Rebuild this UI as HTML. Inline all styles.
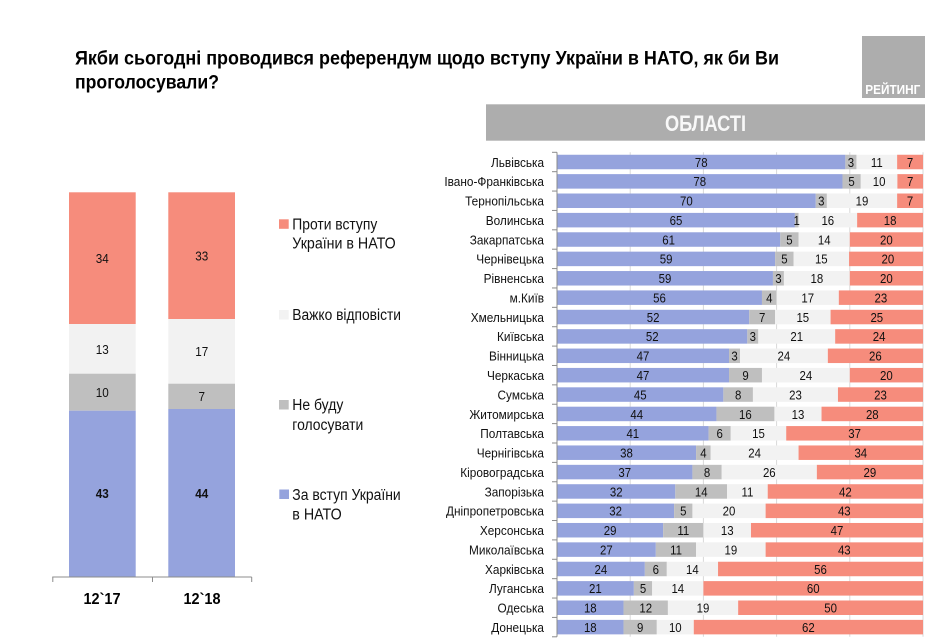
<!DOCTYPE html>
<html><head><meta charset="utf-8"><style>
html,body{margin:0;padding:0;background:#fff;}
svg{display:block;}
text{font-family:"Liberation Sans",Arial,sans-serif;}
.lb{font-size:13px;fill:#111;text-anchor:end;transform-box:fill-box;transform-origin:right center;transform:scaleX(0.91);}
.n{font-size:13px;fill:#111;text-anchor:middle;transform-box:fill-box;transform-origin:center;transform:scaleX(0.88);}
.m{font-size:13px;fill:#111;text-anchor:middle;transform-box:fill-box;transform-origin:center;transform:scaleX(0.9);}
.b{fill:#95a3dd;}.g{fill:#bfbfbf;}.w{fill:#f2f2f2;}.r{fill:#f68c7c;}
.lg{font-size:15.5px;fill:#111;}
</style></head><body>
<svg width="946" height="641" viewBox="0 0 946 641" xmlns="http://www.w3.org/2000/svg">
<rect width="946" height="641" fill="#fff"/>
<!-- Title -->
<text x="75" y="64.3" font-size="19" font-weight="bold" fill="#000" textLength="704" lengthAdjust="spacingAndGlyphs">Якби сьогодні проводився референдум щодо вступу України в НАТО, як би Ви</text>
<text x="75" y="88.3" font-size="19" font-weight="bold" fill="#000" textLength="144" lengthAdjust="spacingAndGlyphs">проголосували?</text>
<!-- logo -->
<rect x="862" y="36" width="63" height="62" fill="#adadad"/>
<text x="865.3" y="94" font-size="12.5" font-weight="bold" fill="#fff" textLength="55" lengthAdjust="spacingAndGlyphs">РЕЙТИНГ</text>
<rect x="486" y="104.3" width="439" height="36.4" fill="#adadad"/>
<text x="705.5" y="131" font-size="22" font-weight="bold" fill="#f8f8f8" text-anchor="middle" textLength="81" lengthAdjust="spacingAndGlyphs">ОБЛАСТІ</text>

<!-- Left chart -->
<rect x="69" y="192.3" width="66.7" height="131.7" class="r"/>
<rect x="69" y="324" width="66.7" height="49.7" class="w"/>
<rect x="69" y="373.7" width="66.7" height="37" class="g"/>
<rect x="69" y="410.7" width="66.7" height="166.3" class="b"/>
<rect x="168.3" y="192.3" width="66.7" height="126.7" class="r"/>
<rect x="168.3" y="319" width="66.7" height="64.7" class="w"/>
<rect x="168.3" y="383.7" width="66.7" height="25.3" class="g"/>
<rect x="168.3" y="409" width="66.7" height="168" class="b"/>
<text class="m" x="102.3" y="263">34</text>
<text class="m" x="102.3" y="353.8">13</text>
<text class="m" x="102.3" y="397">10</text>
<text class="m" x="102.3" y="498" font-weight="bold">43</text>
<text class="m" x="201.7" y="260.5">33</text>
<text class="m" x="201.7" y="356">17</text>
<text class="m" x="201.7" y="401">7</text>
<text class="m" x="201.7" y="498" font-weight="bold">44</text>
<g stroke="#8c8c8c" stroke-width="1">
<line x1="52.3" y1="577" x2="251.7" y2="577"/>
<line x1="52.8" y1="577" x2="52.8" y2="582"/>
<line x1="152.5" y1="577" x2="152.5" y2="582"/>
<line x1="251.7" y1="577" x2="251.7" y2="582"/>
</g>
<text x="102" y="604" font-size="16" font-weight="bold" fill="#000" text-anchor="middle" textLength="37" lengthAdjust="spacingAndGlyphs">12`17</text>
<text x="202" y="604" font-size="16" font-weight="bold" fill="#000" text-anchor="middle" textLength="37" lengthAdjust="spacingAndGlyphs">12`18</text>

<!-- Legend -->
<rect x="279" y="219.3" width="9.7" height="9.5" class="r"/>
<text class="lg" x="292.3" y="229.5" textLength="85" lengthAdjust="spacingAndGlyphs">Проти вступу</text>
<text class="lg" x="292.3" y="248.5" textLength="103.4" lengthAdjust="spacingAndGlyphs">України в НАТО</text>
<rect x="279" y="310" width="9.7" height="9.5" class="w"/>
<text class="lg" x="292.3" y="320" textLength="108.7" lengthAdjust="spacingAndGlyphs">Важко відповісти</text>
<rect x="279" y="400" width="9.7" height="9.5" class="g"/>
<text class="lg" x="292.3" y="410" textLength="51" lengthAdjust="spacingAndGlyphs">Не буду</text>
<text class="lg" x="292.3" y="430" textLength="71" lengthAdjust="spacingAndGlyphs">голосувати</text>
<rect x="279.3" y="489.5" width="9.7" height="9.5" class="b"/>
<text class="lg" x="292.3" y="500" textLength="108.4" lengthAdjust="spacingAndGlyphs">За вступ України</text>
<text class="lg" x="292.3" y="519.3" textLength="49.4" lengthAdjust="spacingAndGlyphs">в НАТО</text>

<!-- Right chart gridlines -->
<g stroke="#d9d9d9" stroke-width="1">
<line x1="630.2" y1="152.3" x2="630.2" y2="636.8"/>
<line x1="703.4" y1="152.3" x2="703.4" y2="636.8"/>
<line x1="776.6" y1="152.3" x2="776.6" y2="636.8"/>
<line x1="849.8" y1="152.3" x2="849.8" y2="636.8"/>
<line x1="923" y1="152.3" x2="923" y2="636.8"/>
</g>

<!-- Bars -->
<g transform="translate(557 154.75) scale(3.69697 1)"><rect x="0" width="78" height="14.5" class="b"/><rect x="78" width="3" height="14.5" class="g"/><rect x="81" width="11" height="14.5" class="w"/><rect x="92" width="7" height="14.5" class="r"/></g>
<g transform="translate(557 174.13) scale(3.66 1)"><rect x="0" width="78" height="14.5" class="b"/><rect x="78" width="5" height="14.5" class="g"/><rect x="83" width="10" height="14.5" class="w"/><rect x="93" width="7" height="14.5" class="r"/></g>
<g transform="translate(557 193.51) scale(3.69697 1)"><rect x="0" width="70" height="14.5" class="b"/><rect x="70" width="3" height="14.5" class="g"/><rect x="73" width="19" height="14.5" class="w"/><rect x="92" width="7" height="14.5" class="r"/></g>
<g transform="translate(557 212.89) scale(3.66 1)"><rect x="0" width="65" height="14.5" class="b"/><rect x="65" width="1" height="14.5" class="g"/><rect x="66" width="16" height="14.5" class="w"/><rect x="82" width="18" height="14.5" class="r"/></g>
<g transform="translate(557 232.27) scale(3.66 1)"><rect x="0" width="61" height="14.5" class="b"/><rect x="61" width="5" height="14.5" class="g"/><rect x="66" width="14" height="14.5" class="w"/><rect x="80" width="20" height="14.5" class="r"/></g>
<g transform="translate(557 251.65) scale(3.69697 1)"><rect x="0" width="59" height="14.5" class="b"/><rect x="59" width="5" height="14.5" class="g"/><rect x="64" width="15" height="14.5" class="w"/><rect x="79" width="20" height="14.5" class="r"/></g>
<g transform="translate(557 271.03) scale(3.66 1)"><rect x="0" width="59" height="14.5" class="b"/><rect x="59" width="3" height="14.5" class="g"/><rect x="62" width="18" height="14.5" class="w"/><rect x="80" width="20" height="14.5" class="r"/></g>
<g transform="translate(557 290.41) scale(3.66 1)"><rect x="0" width="56" height="14.5" class="b"/><rect x="56" width="4" height="14.5" class="g"/><rect x="60" width="17" height="14.5" class="w"/><rect x="77" width="23" height="14.5" class="r"/></g>
<g transform="translate(557 309.79) scale(3.69697 1)"><rect x="0" width="52" height="14.5" class="b"/><rect x="52" width="7" height="14.5" class="g"/><rect x="59" width="15" height="14.5" class="w"/><rect x="74" width="25" height="14.5" class="r"/></g>
<g transform="translate(557 329.17) scale(3.66 1)"><rect x="0" width="52" height="14.5" class="b"/><rect x="52" width="3" height="14.5" class="g"/><rect x="55" width="21" height="14.5" class="w"/><rect x="76" width="24" height="14.5" class="r"/></g>
<g transform="translate(557 348.55) scale(3.66 1)"><rect x="0" width="47" height="14.5" class="b"/><rect x="47" width="3" height="14.5" class="g"/><rect x="50" width="24" height="14.5" class="w"/><rect x="74" width="26" height="14.5" class="r"/></g>
<g transform="translate(557 367.93) scale(3.66 1)"><rect x="0" width="47" height="14.5" class="b"/><rect x="47" width="9" height="14.5" class="g"/><rect x="56" width="24" height="14.5" class="w"/><rect x="80" width="20" height="14.5" class="r"/></g>
<g transform="translate(557 387.31) scale(3.69697 1)"><rect x="0" width="45" height="14.5" class="b"/><rect x="45" width="8" height="14.5" class="g"/><rect x="53" width="23" height="14.5" class="w"/><rect x="76" width="23" height="14.5" class="r"/></g>
<g transform="translate(557 406.69) scale(3.62376 1)"><rect x="0" width="44" height="14.5" class="b"/><rect x="44" width="16" height="14.5" class="g"/><rect x="60" width="13" height="14.5" class="w"/><rect x="73" width="28" height="14.5" class="r"/></g>
<g transform="translate(557 426.07) scale(3.69697 1)"><rect x="0" width="41" height="14.5" class="b"/><rect x="41" width="6" height="14.5" class="g"/><rect x="47" width="15" height="14.5" class="w"/><rect x="62" width="37" height="14.5" class="r"/></g>
<g transform="translate(557 445.45) scale(3.66 1)"><rect x="0" width="38" height="14.5" class="b"/><rect x="38" width="4" height="14.5" class="g"/><rect x="42" width="24" height="14.5" class="w"/><rect x="66" width="34" height="14.5" class="r"/></g>
<g transform="translate(557 464.83) scale(3.66 1)"><rect x="0" width="37" height="14.5" class="b"/><rect x="37" width="8" height="14.5" class="g"/><rect x="45" width="26" height="14.5" class="w"/><rect x="71" width="29" height="14.5" class="r"/></g>
<g transform="translate(557 484.21) scale(3.69697 1)"><rect x="0" width="32" height="14.5" class="b"/><rect x="32" width="14" height="14.5" class="g"/><rect x="46" width="11" height="14.5" class="w"/><rect x="57" width="42" height="14.5" class="r"/></g>
<g transform="translate(557 503.59) scale(3.66 1)"><rect x="0" width="32" height="14.5" class="b"/><rect x="32" width="5" height="14.5" class="g"/><rect x="37" width="20" height="14.5" class="w"/><rect x="57" width="43" height="14.5" class="r"/></g>
<g transform="translate(557 522.97) scale(3.66 1)"><rect x="0" width="29" height="14.5" class="b"/><rect x="29" width="11" height="14.5" class="g"/><rect x="40" width="13" height="14.5" class="w"/><rect x="53" width="47" height="14.5" class="r"/></g>
<g transform="translate(557 542.35) scale(3.66 1)"><rect x="0" width="27" height="14.5" class="b"/><rect x="27" width="11" height="14.5" class="g"/><rect x="38" width="19" height="14.5" class="w"/><rect x="57" width="43" height="14.5" class="r"/></g>
<g transform="translate(557 561.73) scale(3.66 1)"><rect x="0" width="24" height="14.5" class="b"/><rect x="24" width="6" height="14.5" class="g"/><rect x="30" width="14" height="14.5" class="w"/><rect x="44" width="56" height="14.5" class="r"/></g>
<g transform="translate(557 581.11) scale(3.66 1)"><rect x="0" width="21" height="14.5" class="b"/><rect x="21" width="5" height="14.5" class="g"/><rect x="26" width="14" height="14.5" class="w"/><rect x="40" width="60" height="14.5" class="r"/></g>
<g transform="translate(557 600.49) scale(3.69697 1)"><rect x="0" width="18" height="14.5" class="b"/><rect x="18" width="12" height="14.5" class="g"/><rect x="30" width="19" height="14.5" class="w"/><rect x="49" width="50" height="14.5" class="r"/></g>
<g transform="translate(557 619.87) scale(3.69697 1)"><rect x="0" width="18" height="14.5" class="b"/><rect x="18" width="9" height="14.5" class="g"/><rect x="27" width="10" height="14.5" class="w"/><rect x="37" width="62" height="14.5" class="r"/></g>

<!-- Axis -->
<g stroke="#8c8c8c" stroke-width="1">
<line x1="557" y1="152.3" x2="557" y2="636.8"/>
<line x1="552" y1="152.3" x2="557" y2="152.3"/>
<line x1="552" y1="171.68" x2="557" y2="171.68"/>
<line x1="552" y1="191.06" x2="557" y2="191.06"/>
<line x1="552" y1="210.44" x2="557" y2="210.44"/>
<line x1="552" y1="229.82" x2="557" y2="229.82"/>
<line x1="552" y1="249.2" x2="557" y2="249.2"/>
<line x1="552" y1="268.58" x2="557" y2="268.58"/>
<line x1="552" y1="287.96" x2="557" y2="287.96"/>
<line x1="552" y1="307.34" x2="557" y2="307.34"/>
<line x1="552" y1="326.72" x2="557" y2="326.72"/>
<line x1="552" y1="346.1" x2="557" y2="346.1"/>
<line x1="552" y1="365.48" x2="557" y2="365.48"/>
<line x1="552" y1="384.86" x2="557" y2="384.86"/>
<line x1="552" y1="404.24" x2="557" y2="404.24"/>
<line x1="552" y1="423.62" x2="557" y2="423.62"/>
<line x1="552" y1="443" x2="557" y2="443"/>
<line x1="552" y1="462.38" x2="557" y2="462.38"/>
<line x1="552" y1="481.76" x2="557" y2="481.76"/>
<line x1="552" y1="501.14" x2="557" y2="501.14"/>
<line x1="552" y1="520.52" x2="557" y2="520.52"/>
<line x1="552" y1="539.9" x2="557" y2="539.9"/>
<line x1="552" y1="559.28" x2="557" y2="559.28"/>
<line x1="552" y1="578.66" x2="557" y2="578.66"/>
<line x1="552" y1="598.04" x2="557" y2="598.04"/>
<line x1="552" y1="617.42" x2="557" y2="617.42"/>
<line x1="552" y1="636.8" x2="557" y2="636.8"/>
</g>

<!-- Labels -->
<text class="lb" x="544" y="166.8">Львівська</text>
<text class="lb" x="544" y="186.2">Івано-Франківська</text>
<text class="lb" x="544" y="205.6">Тернопільська</text>
<text class="lb" x="544" y="225">Волинська</text>
<text class="lb" x="544" y="244.3">Закарпатська</text>
<text class="lb" x="544" y="263.7">Чернівецька</text>
<text class="lb" x="544" y="283.1">Рівненська</text>
<text class="lb" x="544" y="302.5">м.Київ</text>
<text class="lb" x="544" y="321.9">Хмельницька</text>
<text class="lb" x="544" y="341.2">Київська</text>
<text class="lb" x="544" y="360.6">Вінницька</text>
<text class="lb" x="544" y="380">Черкаська</text>
<text class="lb" x="544" y="399.4">Сумська</text>
<text class="lb" x="544" y="418.8">Житомирська</text>
<text class="lb" x="544" y="438.1">Полтавська</text>
<text class="lb" x="544" y="457.5">Чернігівська</text>
<text class="lb" x="544" y="476.9">Кіровоградська</text>
<text class="lb" x="544" y="496.3">Запорізька</text>
<text class="lb" x="544" y="515.7">Дніпропетровська</text>
<text class="lb" x="544" y="535">Херсонська</text>
<text class="lb" x="544" y="554.4">Миколаївська</text>
<text class="lb" x="544" y="573.8">Харківська</text>
<text class="lb" x="544" y="593.2">Луганська</text>
<text class="lb" x="544" y="612.6">Одеська</text>
<text class="lb" x="544" y="631.9">Донецька</text>

<!-- Values -->
<text class="n" x="701.2" y="166.8">78</text><text class="n" x="850.9" y="166.8">3</text><text class="n" x="876.8" y="166.8">11</text><text class="n" x="910.1" y="166.8">7</text>
<text class="n" x="699.7" y="186.2">78</text><text class="n" x="851.6" y="186.2">5</text><text class="n" x="879.1" y="186.2">10</text><text class="n" x="910.2" y="186.2">7</text>
<text class="n" x="686.4" y="205.6">70</text><text class="n" x="821.3" y="205.6">3</text><text class="n" x="862" y="205.6">19</text><text class="n" x="910.1" y="205.6">7</text>
<text class="n" x="676" y="225">65</text><text class="n" x="796.7" y="225">1</text><text class="n" x="827.8" y="225">16</text><text class="n" x="890.1" y="225">18</text>
<text class="n" x="668.6" y="244.3">61</text><text class="n" x="789.4" y="244.3">5</text><text class="n" x="824.2" y="244.3">14</text><text class="n" x="886.4" y="244.3">20</text>
<text class="n" x="666.1" y="263.7">59</text><text class="n" x="784.4" y="263.7">5</text><text class="n" x="821.3" y="263.7">15</text><text class="n" x="887.9" y="263.7">20</text>
<text class="n" x="665" y="283.1">59</text><text class="n" x="778.4" y="283.1">3</text><text class="n" x="816.9" y="283.1">18</text><text class="n" x="886.4" y="283.1">20</text>
<text class="n" x="659.5" y="302.5">56</text><text class="n" x="769.3" y="302.5">4</text><text class="n" x="807.7" y="302.5">17</text><text class="n" x="880.9" y="302.5">23</text>
<text class="n" x="653.1" y="321.9">52</text><text class="n" x="762.2" y="321.9">7</text><text class="n" x="802.8" y="321.9">15</text><text class="n" x="876.8" y="321.9">25</text>
<text class="n" x="652.2" y="341.2">52</text><text class="n" x="752.8" y="341.2">3</text><text class="n" x="796.7" y="341.2">21</text><text class="n" x="879.1" y="341.2">24</text>
<text class="n" x="643" y="360.6">47</text><text class="n" x="734.5" y="360.6">3</text><text class="n" x="783.9" y="360.6">24</text><text class="n" x="875.4" y="360.6">26</text>
<text class="n" x="643" y="380">47</text><text class="n" x="745.5" y="380">9</text><text class="n" x="805.9" y="380">24</text><text class="n" x="886.4" y="380">20</text>
<text class="n" x="640.2" y="399.4">45</text><text class="n" x="738.2" y="399.4">8</text><text class="n" x="795.5" y="399.4">23</text><text class="n" x="880.5" y="399.4">23</text>
<text class="n" x="636.7" y="418.8">44</text><text class="n" x="745.4" y="418.8">16</text><text class="n" x="798" y="418.8">13</text><text class="n" x="872.3" y="418.8">28</text>
<text class="n" x="632.8" y="438.1">41</text><text class="n" x="719.7" y="438.1">6</text><text class="n" x="758.5" y="438.1">15</text><text class="n" x="854.6" y="438.1">37</text>
<text class="n" x="626.5" y="457.5">38</text><text class="n" x="703.4" y="457.5">4</text><text class="n" x="754.6" y="457.5">24</text><text class="n" x="860.8" y="457.5">34</text>
<text class="n" x="624.7" y="476.9">37</text><text class="n" x="707.1" y="476.9">8</text><text class="n" x="769.3" y="476.9">26</text><text class="n" x="869.9" y="476.9">29</text>
<text class="n" x="616.2" y="496.3">32</text><text class="n" x="701.2" y="496.3">14</text><text class="n" x="747.4" y="496.3">11</text><text class="n" x="845.4" y="496.3">42</text>
<text class="n" x="615.6" y="515.7">32</text><text class="n" x="683.3" y="515.7">5</text><text class="n" x="729" y="515.7">20</text><text class="n" x="844.3" y="515.7">43</text>
<text class="n" x="610.1" y="535">29</text><text class="n" x="683.3" y="535">11</text><text class="n" x="727.2" y="535">13</text><text class="n" x="837" y="535">47</text>
<text class="n" x="606.4" y="554.4">27</text><text class="n" x="676" y="554.4">11</text><text class="n" x="730.9" y="554.4">19</text><text class="n" x="844.3" y="554.4">43</text>
<text class="n" x="600.9" y="573.8">24</text><text class="n" x="655.8" y="573.8">6</text><text class="n" x="692.4" y="573.8">14</text><text class="n" x="820.5" y="573.8">56</text>
<text class="n" x="595.4" y="593.2">21</text><text class="n" x="643" y="593.2">5</text><text class="n" x="677.8" y="593.2">14</text><text class="n" x="813.2" y="593.2">60</text>
<text class="n" x="590.3" y="612.6">18</text><text class="n" x="645.7" y="612.6">12</text><text class="n" x="703" y="612.6">19</text><text class="n" x="830.6" y="612.6">50</text>
<text class="n" x="590.3" y="631.9">18</text><text class="n" x="640.2" y="631.9">9</text><text class="n" x="675.3" y="631.9">10</text><text class="n" x="808.4" y="631.9">62</text>
</svg>
</body></html>
